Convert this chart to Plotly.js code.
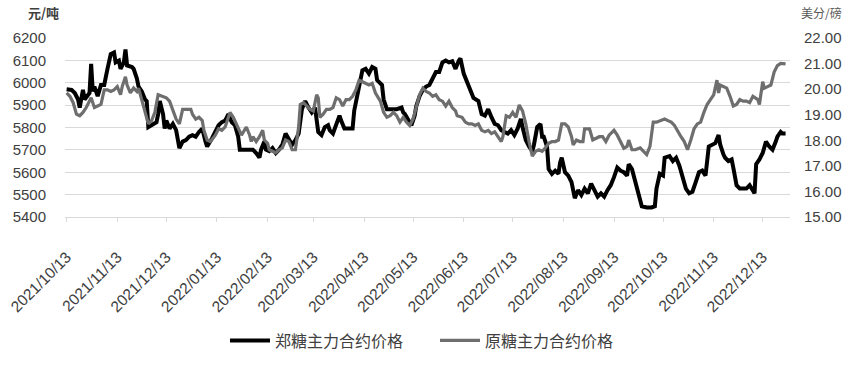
<!DOCTYPE html>
<html>
<head>
<meta charset="utf-8">
<script src="https://cdn.plot.ly/plotly-3.0.1.min.js"></script>
<style>html,body{margin:0;padding:0;background:#fff;}#chart{width:851px;height:370px;}</style>
</head>
<body>
<div id="chart"></div>
<script>
// 郑糖主力合约价格 (元/吨)
const zhengDates = ["2021-10-13","2021-10-16","2021-10-18","2021-10-20","2021-10-21","2021-10-23","2021-10-24","2021-10-27","2021-10-28","2021-10-29","2021-10-30","2021-11-01","2021-11-03","2021-11-05","2021-11-07","2021-11-09","2021-11-11","2021-11-12","2021-11-14","2021-11-15","2021-11-17","2021-11-18","2021-11-19","2021-11-22","2021-11-23","2021-11-25","2021-11-26","2021-11-28","2021-11-30","2021-12-01","2021-12-02","2021-12-05","2021-12-07","2021-12-08","2021-12-09","2021-12-11","2021-12-12","2021-12-13","2021-12-15","2021-12-17","2021-12-19","2021-12-21","2021-12-23","2021-12-25","2021-12-27","2021-12-29","2021-12-31","2022-01-02","2022-01-04","2022-01-06","2022-01-07","2022-01-10","2022-01-12","2022-01-14","2022-01-16","2022-01-18","2022-01-20","2022-01-22","2022-01-24","2022-01-26","2022-01-27","2022-01-30","2022-02-02","2022-02-04","2022-02-06","2022-02-08","2022-02-09","2022-02-11","2022-02-12","2022-02-14","2022-02-16","2022-02-18","2022-02-20","2022-02-22","2022-02-24","2022-02-26","2022-02-28","2022-03-02","2022-03-04","2022-03-06","2022-03-08","2022-03-10","2022-03-12","2022-03-14","2022-03-16","2022-03-18","2022-03-20","2022-03-22","2022-03-23","2022-03-25","2022-03-27","2022-03-29","2022-03-30","2022-04-01","2022-04-03","2022-04-06","2022-04-07","2022-04-09","2022-04-10","2022-04-12","2022-04-14","2022-04-16","2022-04-18","2022-04-20","2022-04-21","2022-04-24","2022-04-25","2022-04-27","2022-04-30","2022-05-03","2022-05-06","2022-05-07","2022-05-08","2022-05-10","2022-05-12","2022-05-14","2022-05-15","2022-05-17","2022-05-19","2022-05-21","2022-05-23","2022-05-25","2022-05-27","2022-05-29","2022-05-31","2022-06-02","2022-06-04","2022-06-06","2022-06-08","2022-06-10","2022-06-11","2022-06-13","2022-06-15","2022-06-17","2022-06-19","2022-06-22","2022-06-24","2022-06-26","2022-06-28","2022-06-30","2022-07-02","2022-07-04","2022-07-06","2022-07-08","2022-07-10","2022-07-12","2022-07-14","2022-07-16","2022-07-18","2022-07-19","2022-07-21","2022-07-23","2022-07-25","2022-07-26","2022-07-28","2022-07-30","2022-07-31","2022-08-01","2022-08-03","2022-08-04","2022-08-06","2022-08-08","2022-08-10","2022-08-11","2022-08-12","2022-08-14","2022-08-16","2022-08-18","2022-08-20","2022-08-22","2022-08-24","2022-08-26","2022-08-28","2022-08-30","2022-09-01","2022-09-03","2022-09-05","2022-09-07","2022-09-09","2022-09-11","2022-09-13","2022-09-15","2022-09-17","2022-09-19","2022-09-21","2022-09-22","2022-09-24","2022-09-26","2022-09-28","2022-09-30","2022-10-03","2022-10-06","2022-10-08","2022-10-09","2022-10-11","2022-10-13","2022-10-14","2022-10-17","2022-10-19","2022-10-21","2022-10-23","2022-10-25","2022-10-27","2022-10-29","2022-10-31","2022-11-02","2022-11-04","2022-11-06","2022-11-08","2022-11-10","2022-11-12","2022-11-14","2022-11-16","2022-11-17","2022-11-19","2022-11-20","2022-11-22","2022-11-24","2022-11-25","2022-11-27","2022-11-29","2022-12-01","2022-12-03","2022-12-05","2022-12-07","2022-12-08","2022-12-09","2022-12-11","2022-12-13","2022-12-15","2022-12-17","2022-12-19","2022-12-21","2022-12-22","2022-12-24","2022-12-25","2022-12-27"];
const zhengValues = [5971,5968,5954,5925,5889,5968,5925,5954,6084,5961,5983,5940,5990,5990,6062,6128,6135,6091,6099,6062,6091,6149,6077,6070,6062,6019,5983,5961,5925,5918,5802,5816,5824,5860,5918,5860,5795,5831,5795,5816,5788,5708,5737,5744,5759,5766,5759,5780,5795,5737,5715,5752,5780,5810,5824,5831,5860,5824,5810,5759,5701,5701,5701,5701,5686,5665,5701,5737,5701,5694,5708,5686,5701,5723,5773,5744,5723,5744,5773,5882,5918,5889,5867,5889,5780,5766,5802,5810,5788,5773,5816,5853,5831,5795,5795,5795,5875,5954,5997,6055,6062,6041,6070,6062,6012,5990,5925,5882,5882,5882,5889,5867,5860,5831,5810,5853,5896,5940,5968,5983,5990,6019,6048,6048,6091,6099,6091,6096,6062,6099,6109,6041,6005,5968,5932,5918,5860,5853,5882,5846,5816,5810,5788,5780,5773,5788,5766,5795,5838,5802,5744,5715,5694,5723,5802,5816,5759,5759,5715,5614,5593,5607,5593,5643,5665,5600,5585,5556,5484,5520,5498,5527,5506,5549,5520,5491,5506,5491,5520,5542,5578,5621,5607,5600,5585,5636,5614,5556,5498,5448,5443,5443,5448,5527,5593,5585,5665,5672,5650,5665,5629,5578,5527,5506,5513,5556,5600,5607,5585,5715,5723,5730,5766,5723,5679,5665,5650,5657,5621,5542,5527,5527,5527,5542,5520,5506,5636,5657,5686,5737,5715,5701,5737,5759,5780,5773,5773];

// 原糖主力合约价格 (美分/磅)
const rawDates = ["2021-10-13","2021-10-15","2021-10-17","2021-10-19","2021-10-21","2021-10-23","2021-10-25","2021-10-27","2021-10-28","2021-10-30","2021-11-01","2021-11-03","2021-11-05","2021-11-07","2021-11-09","2021-11-11","2021-11-13","2021-11-15","2021-11-16","2021-11-18","2021-11-19","2021-11-21","2021-11-23","2021-11-25","2021-11-26","2021-11-28","2021-11-29","2021-12-01","2021-12-02","2021-12-04","2021-12-06","2021-12-08","2021-12-11","2021-12-13","2021-12-15","2021-12-17","2021-12-19","2021-12-21","2021-12-23","2021-12-25","2021-12-28","2021-12-29","2021-12-31","2022-01-02","2022-01-04","2022-01-05","2022-01-07","2022-01-09","2022-01-12","2022-01-14","2022-01-16","2022-01-18","2022-01-20","2022-01-21","2022-01-23","2022-01-25","2022-01-27","2022-01-28","2022-01-31","2022-02-02","2022-02-03","2022-02-04","2022-02-06","2022-02-08","2022-02-10","2022-02-11","2022-02-13","2022-02-14","2022-02-16","2022-02-18","2022-02-20","2022-02-22","2022-02-24","2022-02-26","2022-02-28","2022-03-02","2022-03-04","2022-03-05","2022-03-07","2022-03-09","2022-03-11","2022-03-13","2022-03-15","2022-03-16","2022-03-17","2022-03-19","2022-03-21","2022-03-23","2022-03-25","2022-03-27","2022-03-29","2022-03-31","2022-04-02","2022-04-04","2022-04-06","2022-04-08","2022-04-10","2022-04-12","2022-04-14","2022-04-16","2022-04-18","2022-04-20","2022-04-23","2022-04-25","2022-04-27","2022-04-29","2022-05-01","2022-05-03","2022-05-05","2022-05-07","2022-05-09","2022-05-11","2022-05-13","2022-05-15","2022-05-17","2022-05-19","2022-05-21","2022-05-23","2022-05-25","2022-05-27","2022-05-29","2022-05-31","2022-06-02","2022-06-04","2022-06-06","2022-06-08","2022-06-09","2022-06-12","2022-06-14","2022-06-16","2022-06-18","2022-06-20","2022-06-22","2022-06-24","2022-06-26","2022-06-28","2022-06-30","2022-07-02","2022-07-04","2022-07-06","2022-07-07","2022-07-09","2022-07-11","2022-07-13","2022-07-15","2022-07-17","2022-07-19","2022-07-21","2022-07-23","2022-07-25","2022-07-27","2022-07-29","2022-07-31","2022-08-02","2022-08-04","2022-08-06","2022-08-08","2022-08-10","2022-08-12","2022-08-14","2022-08-16","2022-08-18","2022-08-19","2022-08-21","2022-08-23","2022-08-25","2022-08-26","2022-08-28","2022-08-29","2022-08-31","2022-09-02","2022-09-04","2022-09-06","2022-09-08","2022-09-10","2022-09-13","2022-09-15","2022-09-17","2022-09-19","2022-09-21","2022-09-22","2022-09-24","2022-09-26","2022-09-29","2022-10-01","2022-10-03","2022-10-05","2022-10-07","2022-10-09","2022-10-11","2022-10-14","2022-10-16","2022-10-18","2022-10-20","2022-10-22","2022-10-24","2022-10-26","2022-10-28","2022-10-30","2022-11-01","2022-11-03","2022-11-05","2022-11-07","2022-11-09","2022-11-11","2022-11-13","2022-11-15","2022-11-16","2022-11-17","2022-11-19","2022-11-21","2022-11-23","2022-11-25","2022-11-27","2022-11-29","2022-12-01","2022-12-03","2022-12-05","2022-12-07","2022-12-10","2022-12-11","2022-12-13","2022-12-14","2022-12-16","2022-12-18","2022-12-20","2022-12-22","2022-12-24","2022-12-27"];
const rawValues = [19.85,19.72,19.47,19.02,18.96,19.09,19.28,19.53,19.66,19.28,19.34,19.40,19.97,19.97,19.91,19.97,20.10,19.78,20.10,20.48,20.16,19.85,20.04,19.91,20.04,19.59,19.34,18.90,18.64,18.77,19.09,19.78,19.72,19.66,19.53,19.15,18.83,18.64,19.21,19.21,19.21,19.02,18.83,18.90,18.77,18.39,18.01,17.95,18.20,18.45,18.39,18.52,18.90,19.09,18.90,18.64,18.39,18.20,18.52,18.20,17.95,18.14,17.95,18.14,18.39,18.01,17.88,17.63,17.57,17.51,17.63,17.70,18.01,17.95,17.63,17.63,18.52,19.40,19.47,19.34,19.21,19.15,19.78,19.66,18.90,19.02,19.21,19.21,19.28,19.66,19.59,19.34,19.59,19.59,19.72,19.97,20.35,20.29,20.23,20.16,20.23,19.85,19.53,19.09,18.90,18.96,19.09,18.96,18.71,18.90,18.71,18.58,18.83,19.28,19.78,20.04,19.91,19.85,19.72,19.78,19.59,19.53,19.34,19.53,19.28,19.15,18.96,18.90,18.71,18.64,18.64,18.58,18.64,18.39,18.33,18.39,18.26,18.33,18.14,17.95,18.14,18.96,18.90,19.09,18.90,19.38,19.15,18.64,17.95,17.38,17.57,17.63,17.57,17.70,17.88,17.95,17.95,18.01,18.64,18.64,18.52,18.14,17.82,18.01,17.95,17.95,18.45,18.45,18.45,18.01,18.07,18.14,18.14,17.95,18.20,18.39,18.20,17.95,17.69,17.76,18.01,17.63,17.63,17.70,17.57,17.44,17.76,18.71,18.71,18.77,18.83,18.77,18.71,18.58,18.33,18.14,17.95,17.63,18.01,18.45,18.64,18.71,19.09,19.40,19.59,19.78,20.35,19.85,20.16,20.10,20.04,19.72,19.34,19.40,19.59,19.53,19.53,19.47,19.72,19.59,19.40,20.29,20.04,20.10,20.16,20.67,20.92,21.01,20.99];

const seriesNames = ["郑糖主力合约价格", "原糖主力合约价格"];
const tickDates = ["2021-10-13","2021-11-13","2021-12-13","2022-01-13","2022-02-13","2022-03-13","2022-04-13","2022-05-13","2022-06-13","2022-07-13","2022-08-13","2022-09-13","2022-10-13","2022-11-13","2022-12-13"];
const tickLabels = ["2021/10/13","2021/11/13","2021/12/13","2022/01/13","2022/02/13","2022/03/13","2022/04/13","2022/05/13","2022/06/13","2022/07/13","2022/08/13","2022/09/13","2022/10/13","2022/11/13","2022/12/13"];
const leftUnit = "元/吨";
const rightUnit = "美分/磅";

const traces = [
  {x: zhengDates, y: zhengValues, name: seriesNames[0], type: 'scatter', mode: 'lines',
   line: {color: '#000000', width: 4}, yaxis: 'y'},
  {x: rawDates, y: rawValues, name: seriesNames[1], type: 'scatter', mode: 'lines',
   line: {color: '#6e6e6e', width: 3.2}, yaxis: 'y2'}
];

const tickFont = {family: '"Liberation Sans", Arial, sans-serif', size: 15, color: '#404040'};

const layout = {
  width: 851, height: 370,
  margin: {l: 65, r: 61, t: 38, b: 147},
  paper_bgcolor: '#ffffff', plot_bgcolor: '#ffffff',
  showlegend: true,
  legend: {orientation: 'h', x: 0.2207, xanchor: 'left', y: -0.69, yanchor: 'middle',
    font: {family: '"Noto Sans CJK SC", sans-serif', size: 16, color: '#404040'},
    itemwidth: 40, entrywidth: 155, tracegroupgap: 0},
  xaxis: {type: 'date', range: ['2021-10-12', '2022-12-29 17:00'],
    tickmode: 'array', tickvals: tickDates, ticktext: tickLabels, tickangle: -45,
    tickfont: {family: '"Liberation Sans", Arial, sans-serif', size: 15.5, color: '#404040'},
    showgrid: false, showline: true, linecolor: '#d9d9d9', linewidth: 1,
    ticks: 'outside', ticklen: 4, tickcolor: '#d9d9d9', ticklabelstandoff: 20, zeroline: false},
  yaxis: {range: [5400, 6200], dtick: 100, tick0: 5400, showgrid: true, gridcolor: '#d9d9d9', gridwidth: 1,
    zeroline: false, showline: false, ticks: '', tickfont: tickFont, ticklabelstandoff: 18},
  yaxis2: {range: [15, 22], dtick: 1, tick0: 15, overlaying: 'y', side: 'right', showgrid: false,
    zeroline: false, showline: false, ticks: '', tickformat: '.2f', tickfont: tickFont, ticklabelstandoff: 13},
  annotations: [
    {text: leftUnit, xref: 'paper', yref: 'paper', x: -0.029, y: 1.14, xanchor: 'center', yanchor: 'middle',
     showarrow: false, font: {family: '"Noto Sans CJK SC", sans-serif', size: 13, color: '#404040', weight: 'bold'}},
    {text: rightUnit, xref: 'paper', yref: 'paper', x: 1.0434, y: 1.14, xanchor: 'center', yanchor: 'middle',
     showarrow: false, font: {family: '"Noto Sans CJK SC", sans-serif', size: 12, color: '#595959'}}
  ]
};

Plotly.newPlot('chart', traces, layout, {displayModeBar: false, staticPlot: true});
</script>
</body>
</html>
